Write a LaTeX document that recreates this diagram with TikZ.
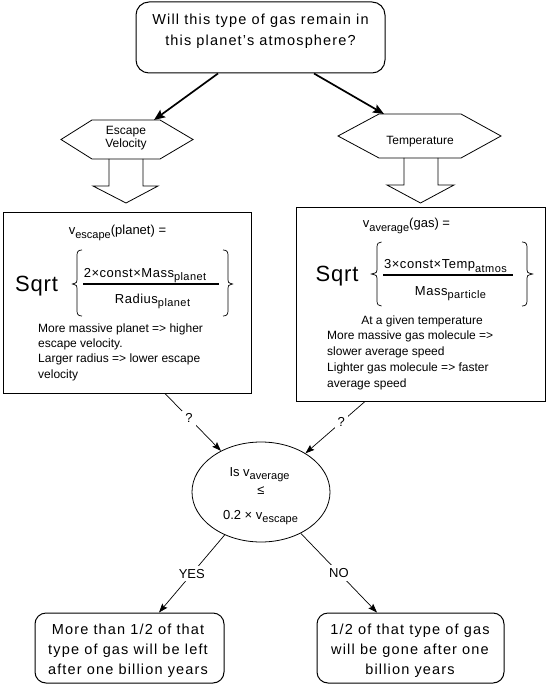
\documentclass[tikz,border=0pt]{standalone}
\usepackage{fontspec}
\setmainfont{Liberation Sans}
\newfontfamily\spacedfont[LetterSpace=8]{Liberation Sans}
\newfontfamily\midfont[LetterSpace=4]{Liberation Sans}
\usetikzlibrary{arrows.meta,calc,shapes.geometric}
\newcommand{\lowsub}[1]{\raisebox{-3.5pt}{\fontsize{11}{11}\selectfont #1}}
\newcommand{\fs}[2]{\fontsize{#1}{#2}\selectfont}
\begin{document}
\begin{tikzpicture}[x=1pt,y=-1pt,
  every node/.style={inner sep=0pt},
  boxline/.style={draw, line width=1pt},
  rbox/.style={draw, line width=1pt, rounded corners=13pt},
  shapeline/.style={line width=0.8pt, line join=miter},
  bigarrow/.style={line width=1.7pt, -{Stealth[length=11pt,width=9pt,inset=2pt]}},
  arr/.style={line width=0.7pt, -{Stealth[length=9pt,width=6.5pt,inset=1.5pt]}},
  lbl/.style={fill=white, inner sep=3pt, font=\fs{13}{15}},
  bigtext/.style={align=center, font=\spacedfont\fs{14.5}{21}},
  note/.style={align=left, font=\fs{12}{15.4}},
  eq/.style={font=\fs{13}{15}},
  sqrtt/.style={font=\midfont\fs{22}{24}},
  bar/.style={line width=2pt},
  brace/.style={line width=0.7pt}]
\useasboundingbox (0,0) rectangle (547,687);

% top question box
\node[rbox, minimum width=249pt, minimum height=71pt] (q) at (260.5,37.5) {};
\node[bigtext] (qt) at (260.5,31) {Will this type of gas remain in\\this planet’s atmosphere?};

% hexagons
\draw[shapeline] (61,139.5) -- (92,120) -- (160,120) -- (193,139.5) -- (160,159) -- (92,159) -- cycle;
\node[align=center, font=\fs{12}{13}] (ev) at (126,138) {Escape\\Velocity};
\draw[shapeline] (338,136) -- (379,114) -- (461,114) -- (501,136) -- (461,158) -- (379,158) -- cycle;
\node[anchor=base, font=\fs{12}{13}] (te) at (420,144.5) {Temperature};
\coordinate (evtop) at (154,120);
\coordinate (tetop) at (384,114);

\draw[bigarrow] ([xshift=-42.5pt]q.south) -- (evtop);
\draw[bigarrow] ([xshift=53.5pt]q.south) -- (tetop);

% block arrows
\draw[shapeline] (109,159) -- (109,186) -- (93,186) -- (126,203) -- (158,186) -- (143,186) -- (143,159);
\draw[shapeline] (404,158) -- (404,185) -- (387,185) -- (420.5,203) -- (454,185) -- (438,185) -- (438,158);

% left formula box
\node[boxline, minimum width=248pt, minimum height=181pt] (lb) at (127,302.5) {};
\node[eq, anchor=base] (lbt) at (117.5,234.5) {v\lowsub{escape}(planet) =};
\node[sqrtt, anchor=base] (lsq) at (36.5,291.5) {Sqrt};
\draw[brace] (82,250) .. controls (78.5,250) and (77,251.5) .. (77,255) -- (77,280) .. controls (77,282.5) .. (72.5,284) .. controls (77,285.5) .. (77,288) -- (77,311) .. controls (77,314.5) and (78.5,316) .. (82,316);
\draw[brace] (223,250) .. controls (226.5,250) and (228,251.5) .. (228,255) -- (228,280) .. controls (228,282.5) .. (232.5,284) .. controls (228,285.5) .. (228,288) -- (228,311) .. controls (228,314.5) and (226.5,316) .. (223,316);
\draw[bar] (83,284) -- (219,284);
\node[eq, font=\midfont\fs{13}{15}, anchor=base] (lnum) at (145,277) {2×const×Mass\lowsub{planet}};
\node[eq, font=\midfont\fs{13}{15}, anchor=base] (lden) at (152.5,303) {Radius\lowsub{planet}};
\node[note, anchor=west] (lnote) at (38,352) {More massive planet => higher\\escape velocity.\\Larger radius => lower escape\\velocity};

% right formula box
\node[boxline, minimum width=249pt, minimum height=194pt] (rb) at (420.75,304) {};
\node[eq, anchor=base] (rbt) at (406.5,227.5) {v\lowsub{average}(gas) =};
\node[sqrtt, anchor=base] (rsq) at (337,281.5) {Sqrt};
\draw[brace] (381.5,242) .. controls (378.5,242) and (377,243.5) .. (377,247) -- (377,270) .. controls (377,272.5) .. (371.5,274) .. controls (377,275.5) .. (377,278) -- (377,301) .. controls (377,304.5) and (378.5,306) .. (381.5,306);
\draw[brace] (522,242) .. controls (525.5,242) and (527,243.5) .. (527,247) -- (527,270) .. controls (527,272.5) .. (532.5,274) .. controls (527,275.5) .. (527,278) -- (527,301) .. controls (527,304.5) and (525.5,306) .. (522,306);
\draw[bar] (383,275) -- (513,275);
\node[eq, font=\midfont\fs{13}{15}, anchor=base] (rnum) at (445.5,268.5) {3×const×Temp\lowsub{atmos}};
\node[eq, font=\midfont\fs{13}{15}, anchor=base] (rden) at (450.5,295) {Mass\lowsub{particle}};
\node[note, anchor=base] (rnote1) at (422,324) {At a given temperature};
\node[note, anchor=west, font=\fs{12}{15.7}] (rnote) at (327,360.4) {More massive gas molecule =>\\slower average speed\\Lighter gas molecule => faster\\average speed};

% comparison ellipse
\node[ellipse, draw, line width=0.8pt, minimum width=138pt, minimum height=100pt] (cmp) at (261,492) {};
\node[eq, anchor=base] (c1) at (259.5,476) {Is v\lowsub{average}};
\node[eq, anchor=base] (c2) at (261,494) {≤};
\node[eq, anchor=base] (c3) at (260.5,519) {0.2 × v\lowsub{escape}};

\draw[arr] ([xshift=38pt]lb.south) -- node[lbl, pos=0.43]{?} (cmp);
\draw[arr] ([xshift=-55.75pt]rb.south) -- node[lbl, pos=0.4]{?} (cmp);

% result boxes
\node[rbox, rounded corners=11pt, minimum width=189pt, minimum height=70pt] (yb) at (129.5,648) {};
\node[bigtext, font=\spacedfont\fs{14.5}{20}] (ybt) at (128,650.75) {More than 1/2 of that\\type of gas will be left\\after one billion years};
\node[rbox, rounded corners=11pt, minimum width=187pt, minimum height=70pt] (nb) at (410.5,648) {};
\node[bigtext, font=\spacedfont\fs{14.5}{20}] (nbt) at (410,650.75) {1/2 of that type of gas\\will be gone after one\\billion years};

\draw[arr] (cmp) -- node[lbl]{YES} ([xshift=29.5pt]yb.north);
\draw[arr] (cmp) -- node[lbl]{NO} ([xshift=-33.5pt]nb.north);
\end{tikzpicture}
\end{document}
